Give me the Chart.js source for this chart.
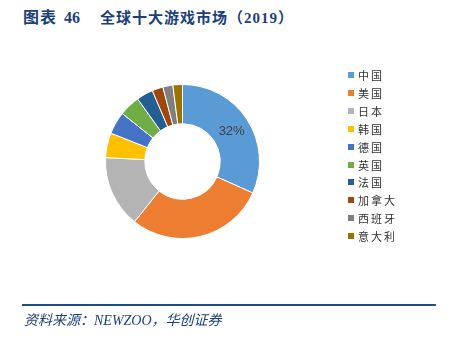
<!DOCTYPE html>
<html>
<head>
<meta charset="utf-8">
<script src="https://cdn.jsdelivr.net/npm/chart.js@4/dist/chart.umd.min.js"></script>
<style>
  html, body { margin:0; padding:0; background:#fff; }
  body { width:453px; height:340px; position:relative; overflow:hidden; }
  #wrap { position:absolute; left:0; top:0; width:453px; height:340px; }
  .t { position:absolute; top:9px; font-family:"Liberation Serif","Noto Sans CJK SC",serif; font-weight:bold; color:#1b3f78; font-size:16px; line-height:18px; white-space:nowrap; }
  #rule { position:absolute; left:22px; top:304px; width:414px; height:2px; background:#1f4e86; }
  #src { position:absolute; left:24px; top:313px; font-family:"Liberation Serif","Noto Sans CJK SC",serif; font-style:italic; font-size:14px; line-height:16px; color:#1b3f78; white-space:nowrap; }
  #legend { position:absolute; left:348px; top:0; }
  .li { position:absolute; left:0; height:14px; white-space:nowrap; }
  .sw { position:absolute; left:0; top:4px; width:6px; height:6px; }
  .lt { position:absolute; left:10px; top:0; font-family:"Noto Sans CJK SC",sans-serif; font-size:11px; line-height:14px; letter-spacing:2px; color:#333; }
</style>
</head>
<body>
<div class="t" style="left:23px;letter-spacing:1px">图表</div>
<div class="t" style="left:64px;">46</div>
<div class="t" style="left:100px;font-size:15px;letter-spacing:1px">全球十大游戏市场（2019）</div>
<div id="wrap"><canvas id="c" width="453" height="340"></canvas></div>
<div id="legend"></div>
<div id="rule"></div>
<div id="src">资料来源：NEWZOO，华创证券</div>
<script>
const countries = ["中国","美国","日本","韩国","德国","英国","法国","加拿大","西班牙","意大利"];
const shares = [31.7, 29.0, 15.1, 5.2, 4.7, 4.4, 3.5, 2.3, 2.1, 2.0];
const shownLabels = ["32%","","","","","","","","",""];
const colors = ["#5b9bd5","#ed7d31","#b4b4b4","#ffc000","#4472c4","#70ad47","#255e91","#9e480e","#7f7f7f","#997300"];

const labelPlugin = {
  id: 'sliceLabels',
  afterDatasetsDraw(chart) {
    const ctx = chart.ctx;
    const meta = chart.getDatasetMeta(0);
    ctx.save();
    ctx.font = '13px "Liberation Sans", "DejaVu Sans", sans-serif';
    ctx.fillStyle = '#404040';
    ctx.textAlign = 'center';
    ctx.textBaseline = 'middle';
    meta.data.forEach((arc, i) => {
      if (!shownLabels[i]) return;
      const p = arc.tooltipPosition();
      ctx.fillText(shownLabels[i], p.x + 1, p.y + 1);
    });
    ctx.restore();
  }
};

const chart = new Chart(document.getElementById('c'), {
  type: 'doughnut',
  data: {
    labels: countries,
    datasets: [{
      data: shares,
      backgroundColor: colors,
      borderColor: '#ffffff',
      borderWidth: 1
    }]
  },
  options: {
    responsive: false,
    animation: false,
    cutout: '49%',
    layout: { padding: { left: 105, top: 84, right: 193, bottom: 101 } },
    plugins: { legend: { display: false }, tooltip: { enabled: false } }
  },
  plugins: [labelPlugin]
});

const leg = document.getElementById('legend');
countries.forEach((name, i) => {
  const d = document.createElement('div');
  d.className = 'li';
  d.style.top = (68 + i * 17.9) + 'px';
  d.innerHTML = '<span class="sw" style="background:' + colors[i] + '"></span><span class="lt">' + name + '</span>';
  leg.appendChild(d);
});
</script>
</body>
</html>
